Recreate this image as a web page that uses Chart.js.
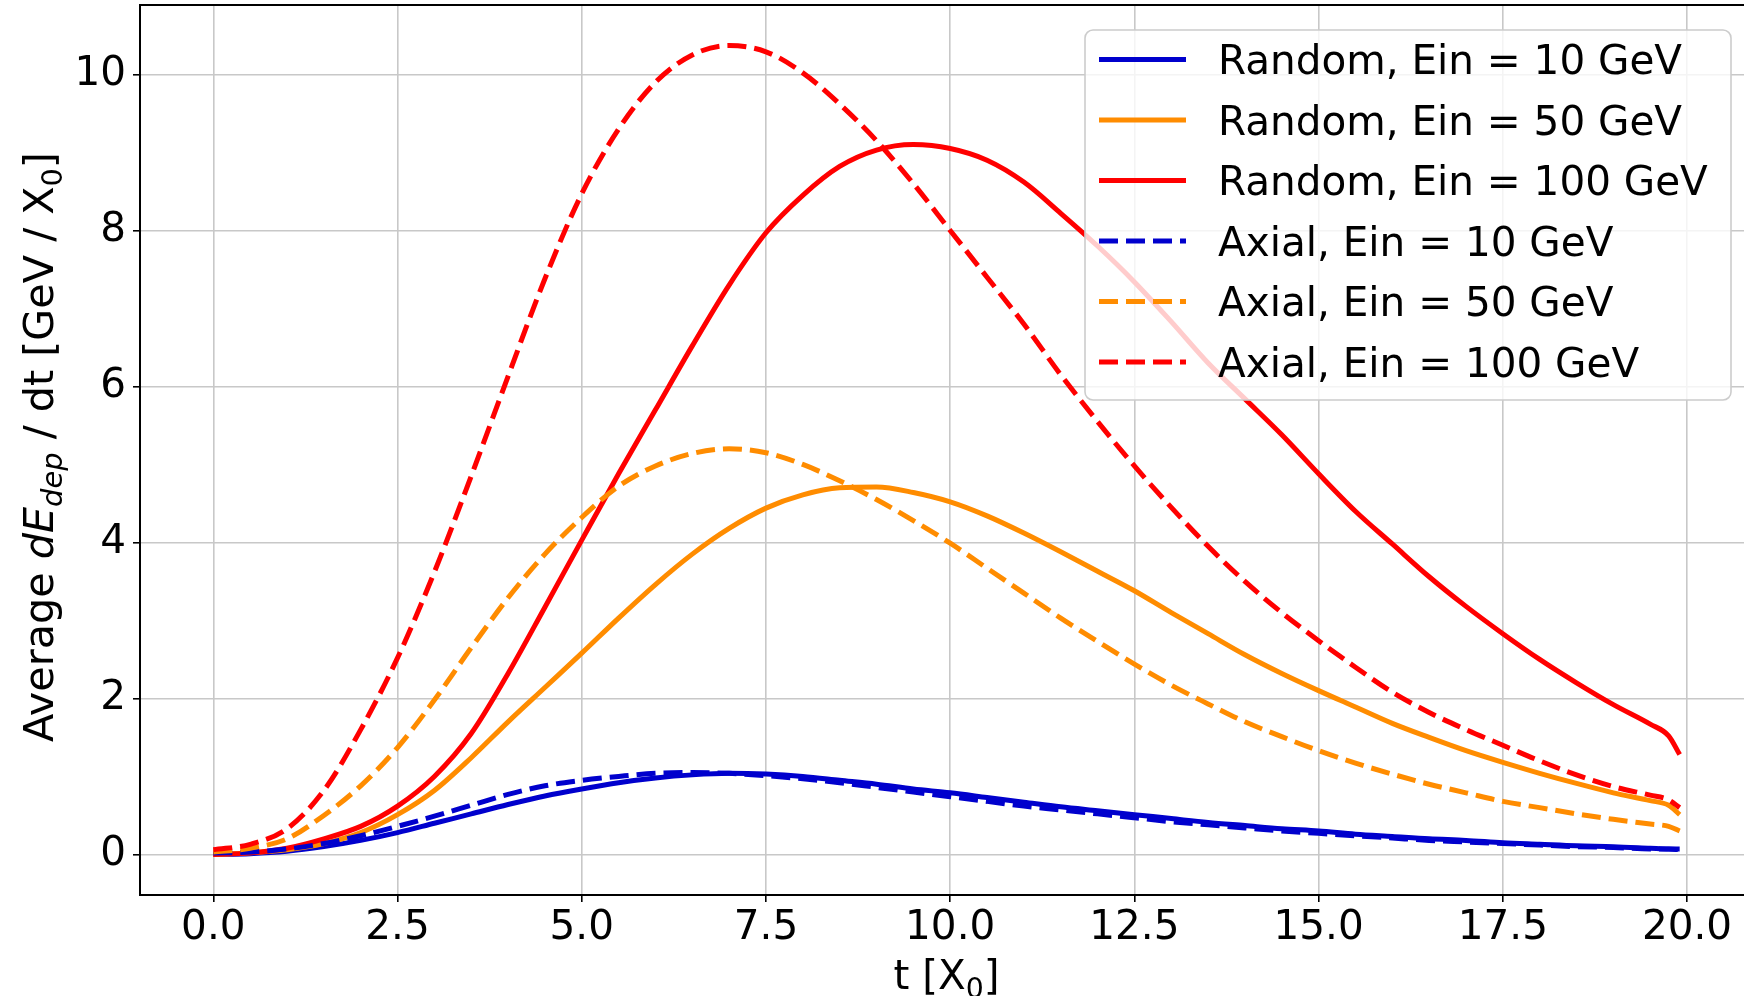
<!DOCTYPE html>
<html>
<head>
<meta charset="utf-8">
<script src="https://cdn.jsdelivr.net/npm/chart.js@4.4.1/dist/chart.umd.min.js"></script>
<style>
  html, body { margin: 0; padding: 0; background: #fff; overflow: hidden; }
  #wrap { width: 1760px; height: 996px; }
</style>
</head>
<body>
<div id="wrap"><canvas id="chart" width="1760" height="996"></canvas></div>
<script>
// Perfil longitudinal medio: dE_dep/dt frente a t [X0]
const tValues = [0, 0.5, 1, 1.5, 2, 2.5, 3, 3.5, 4, 4.5, 5, 5.5, 6, 6.5, 7, 7.5, 8, 8.5, 9, 9.5,
    10, 10.5, 11, 11.5, 12, 12.5, 13, 13.5, 14, 14.5, 15, 15.5, 16, 16.5, 17, 17.5, 18, 18.5, 19, 19.5, 19.75, 19.9];

const randomE10 = [0, 0.01, 0.04, 0.10, 0.18, 0.28, 0.40, 0.52, 0.64, 0.75, 0.84, 0.92, 0.98, 1.02, 1.04, 1.03, 1.00, 0.95, 0.90, 0.84,
    0.79, 0.73, 0.67, 0.61, 0.56, 0.51, 0.46, 0.41, 0.37, 0.33, 0.30, 0.26, 0.23, 0.20, 0.18, 0.15, 0.13, 0.11, 0.10, 0.08, 0.07, 0.07];
const randomE50 = [0, 0.02, 0.06, 0.14, 0.28, 0.51, 0.82, 1.24, 1.70, 2.14, 2.58, 3.03, 3.46, 3.85, 4.18, 4.44, 4.61, 4.70, 4.71, 4.64,
    4.52, 4.34, 4.12, 3.88, 3.63, 3.38, 3.10, 2.83, 2.56, 2.32, 2.10, 1.89, 1.68, 1.50, 1.33, 1.18, 1.04, 0.91, 0.79, 0.69, 0.63, 0.51];
const randomE100 = [0, 0.02, 0.08, 0.20, 0.36, 0.62, 1.00, 1.55, 2.32, 3.17, 4.03, 4.88, 5.70, 6.52, 7.30, 7.97, 8.45, 8.82, 9.03, 9.10,
    9.05, 8.90, 8.62, 8.22, 7.80, 7.34, 6.83, 6.30, 5.84, 5.38, 4.88, 4.40, 3.98, 3.56, 3.18, 2.83, 2.50, 2.20, 1.92, 1.67, 1.52, 1.28];
const axialE10 = [0.02, 0.03, 0.07, 0.14, 0.24, 0.36, 0.49, 0.63, 0.77, 0.88, 0.95, 1.00, 1.04, 1.05, 1.04, 1.01, 0.97, 0.92, 0.86, 0.80,
    0.74, 0.68, 0.62, 0.57, 0.52, 0.47, 0.42, 0.38, 0.34, 0.30, 0.27, 0.24, 0.21, 0.18, 0.16, 0.14, 0.12, 0.10, 0.09, 0.07, 0.07, 0.06];
const axialE50 = [0.03, 0.08, 0.20, 0.50, 0.88, 1.37, 1.98, 2.65, 3.29, 3.85, 4.32, 4.72, 4.98, 5.14, 5.20, 5.15, 5.00, 4.79, 4.55, 4.28,
    3.99, 3.67, 3.35, 3.03, 2.73, 2.44, 2.17, 1.93, 1.70, 1.51, 1.33, 1.17, 1.03, 0.90, 0.79, 0.68, 0.60, 0.52, 0.45, 0.39, 0.36, 0.30];
const axialE100 = [0.06, 0.13, 0.33, 0.82, 1.60, 2.52, 3.62, 4.85, 6.13, 7.38, 8.47, 9.30, 9.90, 10.25, 10.37, 10.29, 10.02, 9.62, 9.15, 8.60,
    8.00, 7.40, 6.80, 6.15, 5.55, 4.98, 4.45, 3.95, 3.50, 3.10, 2.74, 2.40, 2.08, 1.82, 1.60, 1.40, 1.20, 1.02, 0.87, 0.76, 0.70, 0.60];

const seriesLabels = ['Random, Ein = 10 GeV', 'Random, Ein = 50 GeV', 'Random, Ein = 100 GeV',
    'Axial, Ein = 10 GeV', 'Axial, Ein = 50 GeV', 'Axial, Ein = 100 GeV'];
const xTicks = [0, 2.5, 5, 7.5, 10, 12.5, 15, 17.5, 20];
const yTicks = [0, 2, 4, 6, 8, 10];

const FONT = '"DejaVu Sans", sans-serif';
const FS = 40.5;
const LW = 5;
const DASH = [19, 8];

const series = [
    { label: seriesLabels[0], values: randomE10, color: '#0000cd', dash: [] },
    { label: seriesLabels[1], values: randomE50, color: '#ff8c00', dash: [] },
    { label: seriesLabels[2], values: randomE100, color: '#ff0000', dash: [] },
    { label: seriesLabels[3], values: axialE10, color: '#0000cd', dash: DASH },
    { label: seriesLabels[4], values: axialE50, color: '#ff8c00', dash: DASH },
    { label: seriesLabels[5], values: axialE100, color: '#ff0000', dash: DASH }
];

// Textos con subíndices (estilo mathtext)
const yTitle = [
    { t: 'Average ' }, { t: 'dE', it: true }, { t: 'dep', it: true, sub: true },
    { t: ' / dt [GeV / X' }, { t: '0', sub: true }, { t: ']' }
];
const xTitle = [{ t: 't [X' }, { t: '0', sub: true }, { t: ']' }];

function drawRich(ctx, parts, cx, baseline, size) {
    const fontOf = p => `${p.it ? 'italic ' : ''}${p.sub ? size * 0.7 : size}px ${FONT}`;
    const widths = parts.map(p => { ctx.font = fontOf(p); return ctx.measureText(p.t).width; });
    const total = widths.reduce((a, w) => a + w, 0);
    let x = cx - total / 2;
    parts.forEach((p, i) => {
        ctx.font = fontOf(p);
        ctx.fillText(p.t, x, baseline + (p.sub ? size * 0.22 : 0));
        x += widths[i];
    });
}

const framePlugin = {
    id: 'frame',
    afterDraw(chart) {
        const { ctx, chartArea: a } = chart;
        ctx.save();
        // borde superior y derecho (matplotlib los dibuja)
        ctx.strokeStyle = '#000';
        ctx.lineWidth = 2;
        ctx.beginPath();
        ctx.moveTo(a.left, a.top);
        ctx.lineTo(a.right, a.top);
        ctx.lineTo(a.right, a.bottom);
        ctx.stroke();

        // leyenda
        const box = { left: a.right - 668, top: a.top + 25, w: 646, h: 370 };
        ctx.fillStyle = 'rgba(255,255,255,0.8)';
        ctx.strokeStyle = '#cccccc';
        ctx.lineWidth = 1.6;
        ctx.beginPath();
        ctx.roundRect(box.left, box.top, box.w, box.h, 8);
        ctx.fill();
        ctx.stroke();

        chart.data.datasets.forEach((ds, i) => {
            const y = box.top + 29.5 + i * 60.5;
            ctx.strokeStyle = ds.borderColor;
            ctx.lineWidth = LW;
            ctx.lineCap = 'butt';
            ctx.setLineDash(ds.borderDash || []);
            ctx.beginPath();
            ctx.moveTo(box.left + 14, y);
            ctx.lineTo(box.left + 101, y);
            ctx.stroke();
            ctx.setLineDash([]);
            ctx.fillStyle = '#000';
            ctx.font = `${FS}px ${FONT}`;
            ctx.textAlign = 'left';
            ctx.textBaseline = 'alphabetic';
            ctx.fillText(ds.label, box.left + 133, y + 14.5);
        });

        // títulos de los ejes
        ctx.fillStyle = '#000';
        ctx.textAlign = 'left';
        ctx.textBaseline = 'alphabetic';
        drawRich(ctx, xTitle, (a.left + a.right) / 2, 989, FS);
        ctx.translate(53, (a.top + a.bottom) / 2 - 3);
        ctx.rotate(-Math.PI / 2);
        drawRich(ctx, yTitle, 0, 0, 41.3);
        ctx.restore();
    }
};

const tickFont = { family: FONT, size: FS };

new Chart(document.getElementById('chart'), {
    type: 'line',
    data: {
        datasets: series.map((s, i) => ({
            label: s.label,
            data: s.values.map((v, j) => ({ x: tValues[j], y: v })),
            borderColor: s.color,
            borderWidth: LW,
            borderDash: s.dash,
            borderCapStyle: 'butt',
            borderJoinStyle: 'round',
            pointRadius: 0,
            fill: false,
            cubicInterpolationMode: 'monotone',
            order: series.length - i
        }))
    },
    options: {
        animation: false,
        responsive: false,
        layout: { padding: { top: 5, right: 7, left: 0, bottom: 0 } },
        plugins: { legend: { display: false }, tooltip: { enabled: false } },
        scales: {
            x: {
                type: 'linear',
                min: -0.995,
                max: 20.895,
                afterBuildTicks: s => { s.ticks = xTicks.map(v => ({ value: v })); },
                afterFit: s => { s.height = 101; s.paddingLeft = 0; s.paddingRight = 0; },
                grid: { color: '#c8c8c8', lineWidth: 1.6, tickLength: 7, tickColor: '#000', tickWidth: 1.6 },
                border: { color: '#000', width: 2 },
                ticks: { font: tickFont, color: '#000', padding: 2, maxRotation: 0, autoSkip: false, callback: v => v.toFixed(1) }
            },
            y: {
                min: -0.52,
                max: 10.89,
                afterBuildTicks: s => { s.ticks = yTicks.map(v => ({ value: v })); },
                afterFit: s => { s.width = 140; s.paddingTop = 0; s.paddingBottom = 0; },
                grid: { color: '#c8c8c8', lineWidth: 1.6, tickLength: 7, tickColor: '#000', tickWidth: 1.6 },
                border: { color: '#000', width: 2 },
                ticks: { font: tickFont, color: '#000', padding: 7, callback: v => String(v) }
            }
        }
    },
    plugins: [framePlugin]
});
</script>
</body>
</html>
